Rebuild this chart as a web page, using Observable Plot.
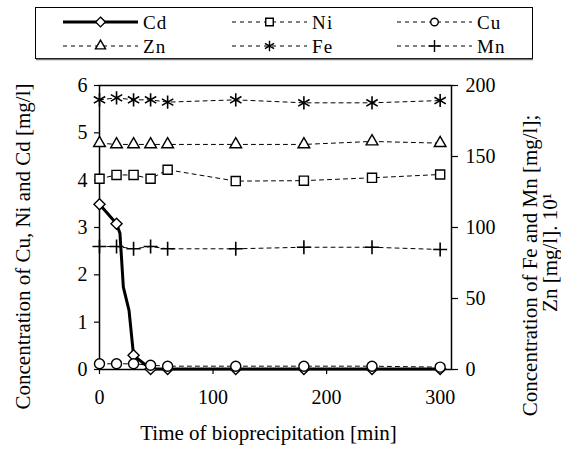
<!DOCTYPE html>
<html><head><meta charset="utf-8">
<script src="https://cdn.jsdelivr.net/npm/d3@7"></script>
<script src="https://cdn.jsdelivr.net/npm/@observablehq/plot@0.6"></script>
<style>
body{margin:0;background:#fff;font-family:"Liberation Serif",serif;}
#chart{position:absolute;left:0;top:0;}
#legend{position:absolute;left:0;top:0;}
svg text{font-family:"Liberation Serif",serif !important;font-weight:normal;font-variant:normal !important;}
</style></head><body>
<div id="chart"></div><div id="legend"></div>
<script>
// ---- data ----
const times = [0, 15, 30, 45, 60, 120, 180, 240, 300];
const cdTimes = [0, 15, 18, 21, 26, 30, 45, 60, 120, 180, 240, 300];   // Cd line (with unmarked bends)
const cdValues = [3.49, 3.08, 2.88, 1.74, 1.25, 0.30, 0.01, 0.01, 0.01, 0.01, 0.01, 0.01];
const cdMarked = [3.49, 3.08, 0.30, 0.01, 0.01, 0.01, 0.01, 0.01, 0.01];
const ni = [4.03, 4.11, 4.11, 4.03, 4.22, 3.98, 3.99, 4.05, 4.12];
const cu = [0.12, 0.12, 0.12, 0.09, 0.07, 0.07, 0.07, 0.07, 0.05];
// right axis series
const zn = [159.4, 158.5, 158.5, 158.5, 158.5, 158.5, 158.5, 160.6, 159.4];
const fe = [189.9, 191.3, 189.9, 189.9, 188.3, 189.9, 187.8, 187.8, 189.4];
const mn = [86.6, 86.6, 85.0, 86.6, 85.0, 85.0, 86.1, 86.1, 84.5];
const xTicks = [0, 100, 200, 300];
const leftTicks = [0, 1, 2, 3, 4, 5, 6];
const rightTicks = [0, 50, 100, 150, 200];
const leftMax = 6, rightMax = 200;
const k = leftMax / rightMax;

const rows = (tt, vals, f = 1) => tt.map((t, i) => ({t, v: vals[i] * f}));
const dash = "4,4";
const font = 20;
const titleFont = 21;
const legendFont = 19;
const ff = "Liberation Serif";

const series = [
  {name: "Cd", data: rows(times, cdMarked), symbol: "diamond2", r: 5},
  {name: "Ni", data: rows(times, ni), symbol: "square2", r: 5.8},
  {name: "Cu", data: rows(times, cu), symbol: "circle", r: 5},
  {name: "Zn", data: rows(times, zn, k), symbol: "triangle2", r: 5.6},
  {name: "Fe", data: rows(times, fe, k), symbol: "asterisk", r: 6.2},
  {name: "Mn", data: rows(times, mn, k), symbol: "plus", r: 4.6}
];

const marks = [];
marks.push(Plot.line(rows(cdTimes, cdValues), {x: "t", y: "v", stroke: "black", strokeWidth: 3}));
marks.push(Plot.dot(series[0].data, {x: "t", y: "v", symbol: "diamond2", r: series[0].r, fill: "white", stroke: "black", strokeWidth: 1.4}));
for (const s of series.slice(1)) {
  marks.push(Plot.line(s.data, {x: "t", y: "v", stroke: "black", strokeWidth: 1, strokeDasharray: dash}));
}
for (const s of series.slice(1)) {
  marks.push(Plot.dot(s.data, {x: "t", y: "v", symbol: s.symbol, r: s.r, fill: "white", stroke: "black", strokeWidth: s.symbol === "asterisk" || s.symbol === "plus" ? 1.6 : 1.4}));
}

const titleOpts = {text: d => d, fontSize: titleFont, fontFamily: ff, textAnchor: "middle", lineAnchor: "middle"};

const chart = Plot.plot({
  width: 561, height: 450,
  marginTop: 85, marginBottom: 81, marginLeft: 99, marginRight: 110,
  style: {fontFamily: ff, fontSize: font + "px", color: "black", background: "white"},
  x: {domain: [0, 310]},
  y: {domain: [0, leftMax]},
  marks: [
    Plot.axisX({ticks: xTicks, tickSize: 5, tickPadding: 15, fontSize: font, fontFamily: ff, fontVariant: "normal", label: null, tickFormat: d => String(d), strokeWidth: 1.2}),
    Plot.axisY({ticks: leftTicks, anchor: "left", tickSize: 5, tickPadding: 7, fontSize: font, fontFamily: ff, fontVariant: "normal", label: null, tickFormat: d => String(d), strokeWidth: 1.2}),
    Plot.axisY({ticks: rightTicks.map(v => v * k), anchor: "right", tickSize: 6, tickPadding: 8, fontSize: font, fontFamily: ff, fontVariant: "normal", label: null,
      tickFormat: d => String(Math.round(d / k)), strokeWidth: 1.2}),
    Plot.frame({stroke: "black", strokeWidth: 1.5}),
    ...marks,
    Plot.text(["Concentration of Cu, Ni and Cd [mg/l]"], {...titleOpts, frameAnchor: "left", rotate: -90, dx: -76, dy: 19, letterSpacing: 1.9}),
    Plot.text(["Concentration of Fe and Mn [mg/l];"], {...titleOpts, frameAnchor: "right", rotate: -90, dx: 79, dy: 38, letterSpacing: 3.2}),
    Plot.text(["Zn [mg/l]. 10\u00B9"], {...titleOpts, frameAnchor: "right", rotate: -90, dx: 99, dy: 25, letterSpacing: 3}),
    Plot.text(["Time of bioprecipitation [min]"], {...titleOpts, frameAnchor: "bottom", dx: -7, dy: 64, letterSpacing: 2})
  ]
});
document.getElementById("chart").appendChild(chart);

// ---- legend ----
const legendItems = [
  {name: "Cd", symbol: d3.symbolDiamond2, r: 4.4, solid: true, col: 0, row: 0},
  {name: "Ni", symbol: d3.symbolSquare2, r: 4.8, col: 1, row: 0},
  {name: "Cu", symbol: d3.symbolCircle, r: 3.8, col: 2, row: 0},
  {name: "Zn", symbol: d3.symbolTriangle2, r: 4.8, col: 0, row: 1},
  {name: "Fe", symbol: d3.symbolAsterisk, r: 5, col: 1, row: 1},
  {name: "Mn", symbol: d3.symbolPlus, r: 4, col: 2, row: 1}
];
const colX = [63, 232, 397];
const rowY = [22, 46];
const svg = d3.select("#legend").append("svg").attr("width", 561).attr("height", 62);
svg.append("rect").attr("x", 35.5).attr("y", 7.5).attr("width", 497).attr("height", 51)
  .attr("fill", "white").attr("stroke", "black").attr("stroke-width", 1);
svg.append("line").attr("x1", 36).attr("x2", 533).attr("y1", 59.5).attr("y2", 59.5).attr("stroke", "#777").attr("stroke-width", 1.5);
for (const it of legendItems) {
  const x0 = colX[it.col], y = rowY[it.row];
  const g = svg.append("g");
  g.append("line").attr("x1", x0).attr("x2", x0 + 75).attr("y1", y).attr("y2", y)
    .attr("stroke", "black").attr("stroke-width", it.solid ? 3 : 1).attr("stroke-dasharray", it.solid ? null : dash);
  g.append("path").attr("d", d3.symbol(it.symbol, Math.PI * it.r * it.r)())
    .attr("transform", `translate(${x0 + 37.5},${y})`)
    .attr("fill", "white").attr("stroke", "black").attr("stroke-width", 1.4);
  g.append("text").attr("x", x0 + 80).attr("y", y).attr("dy", "0.35em")
    .attr("font-size", legendFont).attr("font-family", ff).attr("letter-spacing", 1.2).text(it.name);
}
</script>
</body></html>
